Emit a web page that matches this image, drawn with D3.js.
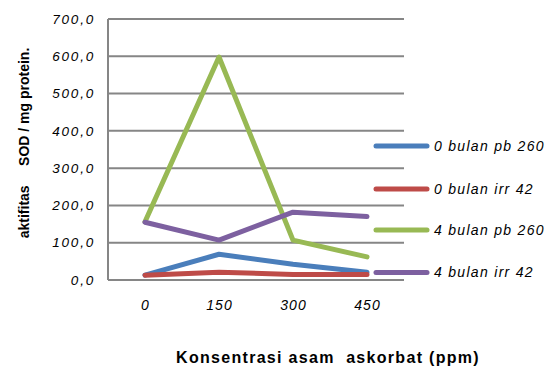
<!DOCTYPE html>
<html>
<head>
<meta charset="utf-8">
<script src="https://cdn.jsdelivr.net/npm/d3@7"></script>
<style>
  html, body { margin: 0; padding: 0; background: #fff; }
  svg text { font-family: "Liberation Sans", Arial, sans-serif; fill: #000; }
</style>
</head>
<body>
<svg id="chart" width="553" height="367"></svg>
<script>
// Ascorbic acid concentration (ppm)
const categories = ["0", "150", "300", "450"];
const seriesNames = ["0 bulan pb 260", "0 bulan irr 42", "4 bulan pb 260", "4 bulan irr 42"];
const pb260Month0 = [13, 69, 42, 21];
const irr42Month0 = [13, 21, 15, 15];
const pb260Month4 = [156, 598, 107, 62];
const irr42Month4 = [155, 107, 182, 170];
const yTicks = [0, 100, 200, 300, 400, 500, 600, 700];
const seriesColors = ["#4a7ebb", "#be4b48", "#98b954", "#7d60a0"];

const seriesValues = [pb260Month0, irr42Month0, pb260Month4, irr42Month4];
const series = seriesNames.map((name, i) => ({ name, values: seriesValues[i], color: seriesColors[i] }));

const svg = d3.select("#chart");
const plot = { left: 108, right: 404, top: 19, bottom: 280 };

const x = d3.scaleBand().domain(categories).range([plot.left, plot.right]);
const y = d3.scaleLinear().domain([0, 700]).range([plot.bottom, plot.top]);
const fmt = v => d3.format(".1f")(v).replace(".", ",");

// Horizontal gridlines
svg.append("g").selectAll("line").data(yTicks).join("line")
  .attr("x1", plot.left).attr("x2", plot.right)
  .attr("y1", d => y(d)).attr("y2", d => y(d))
  .attr("stroke", "#868686").attr("stroke-width", 2);

// Value axis line
svg.append("line")
  .attr("x1", plot.left).attr("x2", plot.left)
  .attr("y1", plot.top).attr("y2", plot.bottom)
  .attr("stroke", "#868686").attr("stroke-width", 2);

// Y tick labels
svg.append("g").selectAll("text").data(yTicks).join("text")
  .attr("x", 95).attr("y", d => y(d)).attr("dy", "0.35em")
  .attr("text-anchor", "end")
  .style("font-style", "italic").style("font-size", "13.5px")
  .style("letter-spacing", "1.8px")
  .text(fmt);

// X tick labels
svg.append("g").selectAll("text").data(categories).join("text")
  .attr("x", d => x(d) + x.bandwidth() / 2 + 0.5).attr("y", 305).attr("dy", "0.35em")
  .attr("text-anchor", "middle")
  .style("font-style", "italic").style("font-size", "14px")
  .style("letter-spacing", "1px")
  .text(d => d);

// Series lines
const line = d3.line()
  .x((d, i) => x(categories[i]) + x.bandwidth() / 2)
  .y(d => y(d));

svg.append("g").selectAll("path").data(series).join("path")
  .attr("d", d => line(d.values))
  .attr("fill", "none")
  .attr("stroke", d => d.color)
  .attr("stroke-width", 5)
  .attr("stroke-linecap", "round")
  .attr("stroke-linejoin", "round");

// Legend
const legendY = [146, 189, 230, 272.5];
const legend = svg.append("g").selectAll("g").data(series).join("g")
  .attr("transform", (d, i) => `translate(0,${legendY[i]})`);
legend.append("line")
  .attr("x1", 376).attr("x2", 427)
  .attr("stroke", d => d.color).attr("stroke-width", 5).attr("stroke-linecap", "round");
legend.append("text")
  .attr("x", 434).attr("dy", "0.35em")
  .style("font-style", "italic").style("font-size", "14px")
  .style("letter-spacing", "1.3px")
  .text(d => d.name);

// Axis titles
svg.append("text")
  .attr("x", 328).attr("y", 357).attr("dy", "0.35em")
  .attr("text-anchor", "middle")
  .style("font-weight", "bold").style("font-size", "16px")
  .style("letter-spacing", "1.3px")
  .style("white-space", "pre")
  .text("Konsentrasi asam  askorbat (ppm)");

svg.append("text")
  .attr("transform", "translate(24,143) rotate(-90)")
  .attr("dy", "0.35em")
  .attr("text-anchor", "middle")
  .style("font-weight", "bold").style("font-size", "14px")
  .style("white-space", "pre")
  .text("aktifitas     SOD / mg protein.");
</script>
</body>
</html>
